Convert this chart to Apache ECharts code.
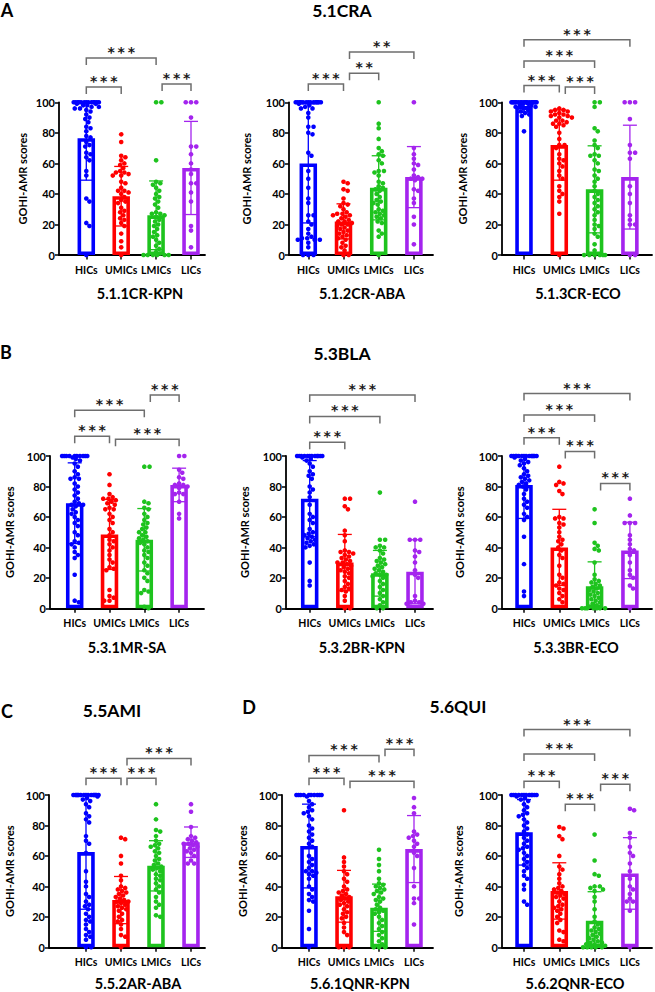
<!DOCTYPE html>
<html><head><meta charset="utf-8">
<script src="https://cdn.jsdelivr.net/npm/echarts@6/dist/echarts.min.js"></script>
<style>html,body{margin:0;padding:0;background:#fff}#c{width:655px;height:992px}</style>
</head><body><div id="c"></div>
<script>
const categories = ['HICs', 'UMICs', 'LMICs', 'LICs'];
const yTicks = [0, 20, 40, 60, 80, 100];

// ---- 5.1.1CR-KPN ----
const mean_511 = [76.5, 38.5, 26, 57];
const sd_511 = [27.5, 19.5, 22.5, 30.5];
const hic_511 = [100,100,100,100,100,100,100,100,100,100,100,100,100,99,99,98,98,97,97,96,96,95,94,92,90,89,87,84,83,81,78,77,74,72,71,67,66,64,62,55,52,37,35,21,19,0];
const umic_511 = [79,74,65,64,62,60,59,57,55,54,54,53,52,52,48,47,44,42,42,41,40,38,36,35,34,31,29,28,26,24,23,21,19,14,9,5,0];
const lmic_511 = [100,100,62,48,47,46,44,42,40,38,37,35,33,31,28,27,27,26,25,23,22,20,19,17,15,13,12,10,8,6,4,2,1,0,0,0,0,0,0];
const lic_511 = [100,100,100,90,71,71,66,60,56,53,47,47,41,35,19,16,5];
const sig_511 = [[0,1,110,'***'],[0,2,129,'***'],[2,3,112,'***']];

// ---- 5.1.2CR-ABA ----
const mean_512 = [60, 22, 44, 51];
const sd_512 = [39, 11.5, 21, 20];
const hic_512 = [100,100,100,100,100,100,100,100,100,100,100,100,100,100,99,98,97,96,96,93,90,84,84,80,79,67,65,55,50,44,37,34,26,26,22,20,17,14,12,11,11,10,10,10,8,5,0,0,0];
const umic_512 = [48,47,43,42,37,34,33,32,30,28,27,27,26,26,25,24,23,22,22,21,20,20,19,18,17,16,15,14,13,12,11,10,8,6,5,3,0,0];
const lmic_512 = [100,86,83,76,70,68,66,65,62,60,55,55,54,52,48,47,45,44,43,42,40,38,36,35,34,33,30,29,28,27,26,25,24,22,21,16,14,12,0];
const lic_512 = [100,70,66,63,60,59,56,52,51,50,50,49,43,42,37,34,25,20,7];
const sig_512 = [[0,1,112,'***'],[1,2,119,'**'],[1,3,133,'**']];

// ---- 5.1.3CR-ECO ----
const mean_513 = [97.5, 72, 43, 51];
const sd_513 = [4, 23, 28.5, 34];
const hic_513 = [100,100,100,100,100,100,100,100,100,100,100,100,100,100,100,100,100,100,100,100,99,99,98,98,97,97,96,95,94,93,92,91,81];
const umic_513 = [96,95,95,94,94,93,92,92,91,91,90,90,88,88,87,86,86,85,84,80,76,72,72,70,66,63,62,60,58,55,52,50,45,42,40,38,35,27,0];
const lmic_513 = [100,100,97,83,81,75,72,70,66,65,65,62,60,56,55,52,50,48,45,42,40,38,36,34,32,30,28,26,23,20,19,17,14,12,7,3,0,0,0,0,0,0];
const lic_513 = [100,100,100,89,72,67,67,63,45,40,34,26,23,20,20,0,0];
const sig_513 = [[0,1,111,'***'],[1,2,110,'***'],[0,2,127,'***'],[0,3,141,'***']];

// ---- 5.3.1MR-SA ----
const mean_531 = [69, 48.5, 45, 81];
const sd_531 = [26.5, 23, 20.5, 11];
const hic_531 = [100,100,100,100,100,100,100,100,100,100,99,98,97,95,93,90,88,86,85,85,82,80,78,76,74,72,70,69,68,68,67,65,63,62,60,58,56,54,50,48,44,43,42,40,37,35,33,22,5,4];
const umic_531 = [88,81,75,73,72,72,71,70,69,68,66,65,65,62,60,58,56,52,50,48,45,44,42,40,38,35,32,30,27,26,25,12,8,7,5,5];
const lmic_531 = [93,93,70,69,66,65,62,60,58,56,55,53,52,50,50,48,47,46,45,44,43,42,40,38,37,35,33,30,28,25,23,20,18,12,11,10,1,0];
const lic_531 = [100,100,91,89,86,85,82,81,81,80,79,76,75,75,70,62,59];
const sig_531 = [[0,1,113,'***'],[0,2,130,'***'],[1,3,111,'***'],[2,3,140,'***']];

// ---- 5.3.2BR-KPN ----
const mean_532 = [72, 30, 23, 24];
const sd_532 = [25, 18.5, 15, 21];
const hic_532 = [100,100,100,100,100,100,100,100,100,100,100,100,99,98,97,95,93,90,88,87,85,80,78,76,73,68,62,60,58,56,52,50,49,48,47,46,45,44,43,42,41,40,30,18,15];
const umic_532 = [72,72,67,65,51,48,44,38,37,37,36,35,34,33,32,31,30,30,29,28,27,26,25,24,23,21,20,18,16,14,13,12,11,8,5,0,0];
const lmic_532 = [76,45,45,41,40,40,38,36,33,32,31,30,29,28,27,26,25,24,23,22,22,21,20,18,16,14,12,10,8,6,4,2,0,0];
const lic_532 = [70,45,45,45,38,37,34,30,25,22,20,8,5,4,4,3,3];
const sig_532 = [[0,1,109,'***'],[0,2,126,'***'],[0,3,140,'***']];

// ---- 5.3.3BR-ECO ----
const mean_533 = [81, 40, 14.5, 38];
const sd_533 = [22, 25, 16, 18.5];
const hic_533 = [100,100,100,100,100,100,100,100,100,100,100,100,100,100,99,98,97,96,95,94,92,90,88,87,86,85,84,83,82,81,80,78,75,72,70,68,66,62,60,58,47,29,11,8];
const umic_533 = [93,83,82,81,77,75,60,59,59,56,55,53,50,47,45,44,42,40,38,35,33,28,22,20,17,16,15,13,12,10,8,6,4];
const lmic_533 = [65,56,43,41,39,38,30,22,19,18,17,16,15,14,13,12,11,10,9,8,7,6,5,4,3,2,1,0,0,0,0,0,0,0];
const lic_533 = [72,61,56,56,56,48,45,42,39,38,35,30,25,22,20,15,13,0];
const sig_533 = [[0,1,112,'***'],[0,2,127,'***'],[0,3,141,'***'],[1,2,103,'***'],[2,3,82,'***']];

// ---- 5.5.2AR-ABA ----
const mean_552 = [62.5, 31, 53.5, 69];
const sd_552 = [37.5, 15.5, 16.5, 10];
const hic_552 = [100,100,100,100,100,100,100,100,100,100,100,100,100,100,100,99,98,97,96,94,92,88,86,84,82,73,70,68,62,50,43,40,35,33,30,28,27,25,22,20,18,17,15,12,10,8,7,5,0,0];
const umic_552 = [72,71,60,55,47,44,40,39,38,37,36,35,34,33,32,31,30,30,29,28,27,26,25,24,22,20,18,17,15,12,8,7,0];
const lmic_552 = [94,84,77,76,73,70,68,67,66,65,63,62,60,58,57,55,54,53,52,51,50,48,47,45,44,42,40,38,36,33,30,28,26,21,20];
const lic_552 = [94,89,79,73,72,71,70,69,68,68,67,66,65,64,63,62,60,57,55,55];
const sig_552 = [[0,1,111,'***'],[1,2,111,'***'],[1,3,124,'***']];

// ---- 5.6.1QNR-KPN ----
const mean_561 = [66.5, 33.5, 26, 64.5];
const sd_561 = [27.5, 17, 15.5, 22];
const hic_561 = [100,100,100,100,100,100,100,100,100,100,99,96,94,92,90,89,88,86,84,80,78,76,74,72,70,68,66,60,58,56,54,52,50,50,49,48,47,45,40,38,35,33,31,30,24,12,0];
const umic_561 = [90,59,56,53,50,48,45,43,40,38,37,36,35,34,33,32,31,30,29,28,27,25,23,22,20,19,16,13,10,8,0,0,0];
const lmic_561 = [64,58,54,50,45,42,41,40,39,38,37,36,35,33,32,31,30,28,26,25,24,23,22,20,18,16,14,12,10,8,6,4,2,0,0,0];
const lic_561 = [98,92,88,76,74,73,72,70,68,66,62,60,52,40,32,32,29,15];
const sig_561 = [[0,1,111,'***'],[0,2,126,'***'],[1,3,109,'***'],[2,3,130,'***']];

// ---- 5.6.2QNR-ECO ----
const mean_562 = [75.5, 37, 17.5, 48.5];
const sd_562 = [21.5, 18.5, 19, 23.5];
const hic_562 = [100,100,100,100,100,100,100,100,100,100,100,100,99,98,97,96,94,92,90,88,87,86,84,82,80,78,76,74,72,70,68,66,65,64,62,60,58,56,54,52,50,47,45,41,38,30,28];
const umic_562 = [79,78,73,71,60,53,51,48,45,42,40,39,38,37,36,35,34,33,32,30,28,27,26,25,24,22,20,18,16,11,10,5,4];
const lmic_562 = [74,57,48,47,40,40,39,38,37,33,30,25,20,17,15,13,12,11,10,9,8,7,6,5,4,3,3,2,2,1,1,0,0,0,0,0];
const lic_562 = [91,90,75,72,66,62,60,55,50,45,40,38,35,32,30,30,24,0];
const sig_562 = [[0,1,109,'***'],[0,2,127,'***'],[0,3,143,'***'],[1,2,94,'***'],[2,3,107,'***']];

// ---------------- assembly ----------------
const FONT = 'Lato, "Open Sans", sans-serif';
const STAR_FONT = '"DejaVu Sans", sans-serif';
const colors = ['#0000ff', '#ff0000', '#1ec31e', '#a424ee'];
const rows = [{top: 102.3, bot: 255}, {top: 456, bot: 608.3}, {top: 795, bot: 947.3}];

const panels = [
  {name:'5.1.1CR-KPN', mean:mean_511, sd:sd_511, pts:[hic_511,umic_511,lmic_511,lic_511], sig:sig_511, row:0, axisX:59, c0:86.3, sp:34.9, xEnd:205, nameX:28, tx:140},
  {name:'5.1.2CR-ABA', mean:mean_512, sd:sd_512, pts:[hic_512,umic_512,lmic_512,lic_512], sig:sig_512, row:0, axisX:289, c0:308.3, sp:35.2, xEnd:433, nameX:252, tx:362},
  {name:'5.1.3CR-ECO', mean:mean_513, sd:sd_513, pts:[hic_513,umic_513,lmic_513,lic_513], sig:sig_513, row:0, axisX:502, c0:524, sp:35.3, xEnd:652, nameX:468, tx:578},
  {name:'5.3.1MR-SA', mean:mean_531, sd:sd_531, pts:[hic_531,umic_531,lmic_531,lic_531], sig:sig_531, row:1, axisX:50, c0:74.7, sp:34.8, xEnd:204, nameX:15, tx:127},
  {name:'5.3.2BR-KPN', mean:mean_532, sd:sd_532, pts:[hic_532,umic_532,lmic_532,lic_532], sig:sig_532, row:1, axisX:286, c0:309.7, sp:35.1, xEnd:433, nameX:250, tx:362},
  {name:'5.3.3BR-ECO', mean:mean_533, sd:sd_533, pts:[hic_533,umic_533,lmic_533,lic_533], sig:sig_533, row:1, axisX:502, c0:524, sp:35.3, xEnd:652, nameX:465, tx:576},
  {name:'5.5.2AR-ABA', mean:mean_552, sd:sd_552, pts:[hic_552,umic_552,lmic_552,lic_552], sig:sig_552, row:2, axisX:49, c0:86, sp:35, xEnd:205, nameX:15, tx:138},
  {name:'5.6.1QNR-KPN', mean:mean_561, sd:sd_561, pts:[hic_561,umic_561,lmic_561,lic_561], sig:sig_561, row:2, axisX:282, c0:309, sp:35, xEnd:433, nameX:248, tx:360},
  {name:'5.6.2QNR-ECO', mean:mean_562, sd:sd_562, pts:[hic_562,umic_562,lmic_562,lic_562], sig:sig_562, row:2, axisX:502, c0:524, sp:35.3, xEnd:652, nameX:464, tx:575}
];
const subtitleY = [293, 647, 983];

// deterministic beeswarm layout (pixel offsets for overlapping dots)
function swarm(vals, ky) {
  const D = 4.3, maxOff = 12.6, step = 1.05;
  const cands = [0];
  for (let o = step; o <= maxOff + 1e-6; o += step) cands.push(o, -o);
  const placed = [], out = [];
  const order = vals.map((v, i) => i).sort((a, b) => vals[b] - vals[a]);
  for (const idx of order) {
    const y = vals[idx] * ky;
    let best = 0, bestD = -1;
    for (const x of cands) {
      let md = Infinity;
      for (const p of placed) {
        const dy = p.y - y;
        if (Math.abs(dy) < D) { const d = Math.hypot(p.x - x, dy); if (d < md) md = d; }
      }
      if (md >= D) { best = x; bestD = md; break; }
      if (md > bestD) { bestD = md; best = x; }
    }
    placed.push({x: best, y});
    out[idx] = best;
  }
  return out;
}

const grid = [], xAxis = [], yAxis = [], series = [], graphic = [];
panels.forEach((p, k) => {
  const r = rows[p.row];
  const h = r.bot - r.top;
  const gF = 2 * k, gD = 2 * k + 1;
  grid.push({left: p.axisX, top: r.top, width: p.xEnd - p.axisX, height: h});
  grid.push({left: p.c0 - p.sp / 2, top: r.top, width: 4 * p.sp, height: h});
  xAxis.push({gridIndex: gF, type: 'value', min: 0, max: 1,
    axisLine: {show: true, lineStyle: {color: '#000', width: 1.8}},
    axisTick: {show: false}, axisLabel: {show: false}, splitLine: {show: false}});
  yAxis.push({gridIndex: gF, type: 'value', min: 0, max: 100, interval: 20,
    axisLine: {show: true, lineStyle: {color: '#000', width: 1.8}},
    axisTick: {show: true, length: 4, lineStyle: {color: '#000', width: 1.5}},
    axisLabel: {color: '#000', fontFamily: FONT, fontWeight: 'bold', fontSize: 11, margin: 4,
      formatter: v => yTicks.includes(v) ? String(v) : ''},
    splitLine: {show: false},
    name: 'GOHI-AMR scores', nameLocation: 'middle', nameGap: p.axisX - p.nameX,
    nameTextStyle: {color: '#000', fontFamily: FONT, fontWeight: 'bold', fontSize: 11}});
  xAxis.push({gridIndex: gD, type: 'category', data: categories,
    axisLine: {show: false},
    axisTick: {show: true, alignWithLabel: true, length: 4.5, lineStyle: {color: '#000', width: 1.5}},
    axisLabel: {color: '#000', fontFamily: FONT, fontWeight: 'bold', fontSize: 10.5, margin: 9, interval: 0},
    splitLine: {show: false}});
  yAxis.push({gridIndex: gD, type: 'value', min: 0, max: 100, show: false, splitLine: {show: false}});

  series.push({type: 'bar', xAxisIndex: gD, yAxisIndex: gD, barWidth: 17.5, z: 2, silent: true,
    data: p.mean.map((m, i) => ({value: m, itemStyle: {color: '#ffffff', borderColor: colors[i], borderWidth: 3.6}}))});

  series.push({type: 'custom', xAxisIndex: gD, yAxisIndex: gD, z: 3, silent: true, clip: false,
    data: p.mean.map((m, i) => [i, m, p.sd[i]]),
    renderItem: (params, api) => {
      const i = api.value(0), m = api.value(1), s = api.value(2);
      const lo = Math.max(0, m - s), hi = Math.min(100, m + s);
      const a = api.coord([i, lo]), b = api.coord([i, hi]);
      const st = {stroke: colors[i], lineWidth: 1.3, fill: null};
      const ch = [{type: 'line', shape: {x1: a[0], y1: a[1], x2: b[0], y2: b[1]}, style: st}];
      if (m + s <= 100) ch.push({type: 'line', shape: {x1: b[0] - 7, y1: b[1], x2: b[0] + 7, y2: b[1]}, style: st});
      if (m - s > 0) ch.push({type: 'line', shape: {x1: a[0] - 7, y1: a[1], x2: a[0] + 7, y2: a[1]}, style: st});
      return {type: 'group', children: ch};
    }});

  const ky = h / 100;
  p.pts.forEach((vals, i) => {
    const offs = swarm(vals, ky);
    series.push({type: 'scatter', xAxisIndex: gD, yAxisIndex: gD, z: 4, silent: true,
      symbol: 'circle', symbolSize: 4.6, itemStyle: {color: colors[i], opacity: 1},
      data: vals.map((v, j) => ({value: [i, v], symbolOffset: [offs[j], 0]}))});
  });

  const sigs = p.sig;
  series.push({type: 'custom', xAxisIndex: gD, yAxisIndex: gD, z: 5, silent: true, clip: false,
    data: sigs.map(s => [s[0], s[1], s[2], sigs.some(o => o[1] === s[0]) ? 6 : 0]),
    renderItem: (params, api) => {
      const a = api.value(0), b = api.value(1), y = api.value(2), sh = api.value(3);
      const p1 = api.coord([a, y]), p2 = api.coord([b, y]);
      const x1 = p1[0] + sh, x2 = p2[0], yy = p1[1];
      const label = sigs[params.dataIndex][3].split('').join('\u2009');
      return {type: 'group', children: [
        {type: 'polyline', shape: {points: [[x1, yy + 7], [x1, yy], [x2, yy], [x2, yy + 7]]},
          style: {stroke: '#6e6e6e', lineWidth: 1.5, fill: null}},
        {type: 'text', x: (x1 + x2) / 2, y: yy - 6,
          style: {text: label, fill: '#1a1a1a', font: 'bold 14px ' + STAR_FONT, align: 'center', verticalAlign: 'middle'}}
      ]};
    }});

  graphic.push({type: 'text', x: p.tx, y: subtitleY[p.row],
    style: {text: p.name, fill: '#000', font: 'bold 14.5px ' + FONT, align: 'center', verticalAlign: 'middle'}});
});

const headers = [
  {t: 'A', x: 7, y: 10, s: 18}, {t: 'B', x: 6, y: 352, s: 18}, {t: 'C', x: 7, y: 711, s: 18}, {t: 'D', x: 249, y: 707, s: 18},
  {t: '5.1CRA', x: 342, y: 10, s: 17.5}, {t: '5.3BLA', x: 342, y: 353, s: 17.5},
  {t: '5.5AMI', x: 112, y: 710, s: 17.5}, {t: '5.6QUI', x: 458, y: 706, s: 17.5}
];
headers.forEach(h => graphic.push({type: 'text', x: h.x, y: h.y,
  style: {text: h.t, fill: '#000', font: 'bold ' + h.s + 'px ' + FONT, align: 'center', verticalAlign: 'middle'}}));

const chart = echarts.init(document.getElementById('c'), null, {renderer: 'svg', width: 655, height: 992});
chart.setOption({backgroundColor: '#fff', animation: false, grid, xAxis, yAxis, series, graphic});
</script>
</body></html>
